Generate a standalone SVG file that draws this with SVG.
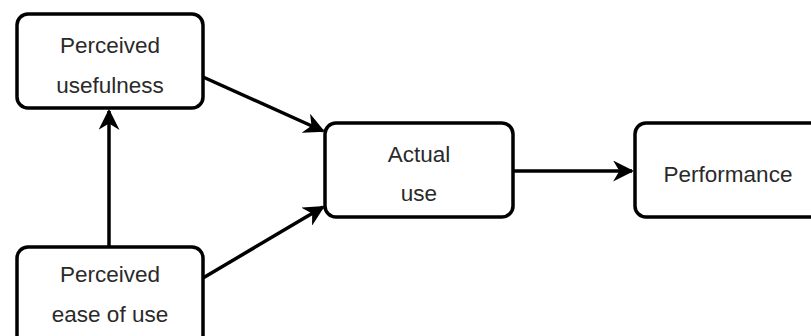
<svg xmlns="http://www.w3.org/2000/svg" width="811" height="336" viewBox="0 0 811 336">
<defs>
<style>
.box{fill:#fff;stroke:#000;stroke-width:3.5}
.t{font-family:"Liberation Sans",Arial,sans-serif;font-size:22.5px;fill:#2a2a2a;text-anchor:middle}
.c{stroke:#000;stroke-width:3.5;fill:none}
</style>
<marker id="ah" viewBox="0 0 10 10" refX="9" refY="5" markerWidth="6" markerHeight="6" markerUnits="strokeWidth" orient="auto">
<path d="M0,0 L10,5 L0,10 L3,5 Z" fill="#000"/>
</marker>
</defs>
<rect width="811" height="336" fill="#fff"/>
<g id="connectors">
<line class="c" x1="109" y1="247" x2="109" y2="111" marker-end="url(#ah)"/>
<line class="c" x1="203" y1="77" x2="323" y2="131" marker-end="url(#ah)"/>
<line class="c" x1="203" y1="278" x2="323" y2="207" marker-end="url(#ah)"/>
<line class="c" x1="513" y1="171" x2="632" y2="171" marker-end="url(#ah)"/>
</g>
<g id="pu">
<rect class="box" x="17" y="14" width="186" height="94" rx="11"/>
<text class="t" x="110" y="53">Perceived</text>
<text class="t" x="110" y="93">usefulness</text>
</g>
<g id="peou">
<rect class="box" x="17" y="247" width="186" height="100" rx="11"/>
<text class="t" x="110" y="282">Perceived</text>
<text class="t" x="110" y="322">ease of use</text>
</g>
<g id="au">
<rect class="box" x="325" y="123" width="188" height="94" rx="11"/>
<text class="t" x="419" y="162">Actual</text>
<text class="t" x="419" y="201">use</text>
</g>
<g id="perf">
<rect class="box" x="635" y="123" width="190" height="94" rx="11"/>
<text class="t" x="728" y="182">Performance</text>
</g>
</svg>
